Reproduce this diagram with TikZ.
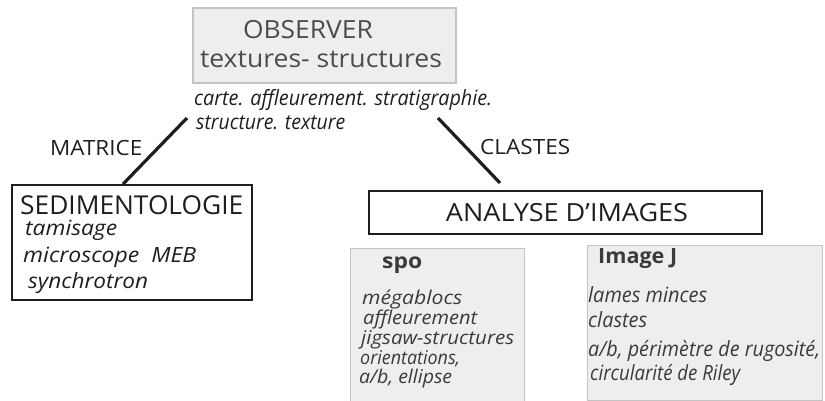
\documentclass[tikz,border=0pt]{standalone}
\usepackage{fontspec}
\usepackage{graphicx}
\setmainfont{Open Sans}
\newcommand{\fitw}[2]{\resizebox{#1pt}{\height}{#2}}
\definecolor{boxfill}{HTML}{EEEEEE}
\definecolor{boxline}{HTML}{C4C4C4}
\definecolor{graytext}{HTML}{3A3A3A}
\definecolor{obstext}{HTML}{4C4C4C}
\definecolor{darktext}{HTML}{1E1E1E}
\begin{document}
\begin{tikzpicture}[x=1pt,y=-1pt,
  graybox/.style={draw=boxline,fill=boxfill,line width=1.2pt,inner sep=0pt},
  blackbox/.style={draw=darktext,line width=1.8pt,inner sep=0pt},
  txt/.style={inner sep=0pt,text=darktext},
  gtxt/.style={inner sep=0pt,text=graytext},
  big/.style={font=\fontsize{25}{30}\selectfont},
  mid/.style={font=\fontsize{21}{25}\selectfont},
  ital/.style={font=\fontsize{21}{25}\itshape},
  sital/.style={font=\fontsize{19}{22}\itshape},
  bld/.style={font=\fontsize{21}{25}\bfseries},
  link/.style={line width=3.2pt,draw=darktext}]
\useasboundingbox (0,0) rectangle (825,401);
\begin{scope}
\clip (0,0) rectangle (825,401);
% OBSERVER box
\node[graybox,minimum width=263pt,minimum height=75pt] (obs) at (324.5,45.5) {};
\node[inner sep=0pt,text=obstext,big] (obs1) at (308,30) {\fitw{130}{OBSERVER}};
\node[inner sep=0pt,text=obstext,big] (obs2) at (321,59) {\fitw{242}{textures- structures}};
\node[txt,anchor=west,ital] (note1) at (194,100) {\fitw{298}{carte. affleurement. stratigraphie.}};
\node[txt,anchor=west,ital] (note2) at (196,123) {\fitw{149}{structure. texture}};
% labels
\node[txt,anchor=west,mid] (matrice) at (50,148) {\fitw{92}{MATRICE}};
\node[txt,anchor=west,mid] (clastes) at (480,147) {\fitw{90}{CLASTES}};
% SEDIMENTOLOGIE
\node[blackbox,minimum width=240pt,minimum height=115pt] (sed) at (132,242.5) {};
\node[txt,anchor=west,font=\fontsize{26}{30}\selectfont] (sedt) at (20,205) {\fitw{223}{SEDIMENTOLOGIE}};
\node[txt,anchor=west,ital] (sed1) at (25,230) {\fitw{92}{tamisage}};
\node[txt,anchor=west,ital] (sed2) at (23,257) {\fitw{173}{microscope\ \ MEB}};
\node[txt,anchor=west,ital] (sed3) at (28,283) {\fitw{120}{synchrotron}};
% ANALYSE
\node[blackbox,line width=2.4pt,minimum width=393pt,minimum height=43pt] (ana) at (565.5,212.5) {};
\node[txt,big] (anat) at (567,213) {\fitw{242}{ANALYSE D'IMAGES}};
% connectors
\coordinate (mtop) at (187,118);
\coordinate (ctop) at (438,118);
\coordinate (cbot) at (500,183);
\draw[link] (mtop) -- (sed.north -| 123,0);
\draw[link] (ctop) -- (cbot);
% spo box
\node[graybox,minimum width=174pt,minimum height=170pt,anchor=north west] (spo) at (350,248) {};
\node[gtxt,anchor=west,bld] (spot) at (382,265) {\fitw{40}{spo}};
\node[gtxt,anchor=west,sital] (spo1) at (362,300) {\fitw{100}{mégablocs}};
\node[gtxt,anchor=west,sital] (spo2) at (363,320) {\fitw{114}{affleurement}};
\node[gtxt,anchor=west,sital] (spo3) at (361,340) {\fitw{153}{jigsaw-structures}};
\node[gtxt,anchor=west,sital] (spo4) at (360,359) {\fitw{100}{orientations,}};
\node[gtxt,anchor=west,sital] (spo5) at (359,379) {\fitw{93}{a/b, ellipse}};
% Image J box
\node[graybox,minimum width=235pt,minimum height=155pt,anchor=north west] (imj) at (587,245) {};
\node[gtxt,anchor=west,bld] (imjt) at (598,259) {\fitw{79}{Image J}};
\node[gtxt,anchor=west,ital] (imj1) at (588,295) {\fitw{119}{lames minces}};
\node[gtxt,anchor=west,ital] (imj2) at (588,320) {\fitw{59}{clastes}};
\node[gtxt,anchor=west,ital] (imj3) at (588,351) {\fitw{232}{a/b, périmètre de rugosité,}};
\node[gtxt,anchor=west,ital] (imj4) at (590,375) {\fitw{150}{circularité de Riley}};
\end{scope}
\end{tikzpicture}
\end{document}
